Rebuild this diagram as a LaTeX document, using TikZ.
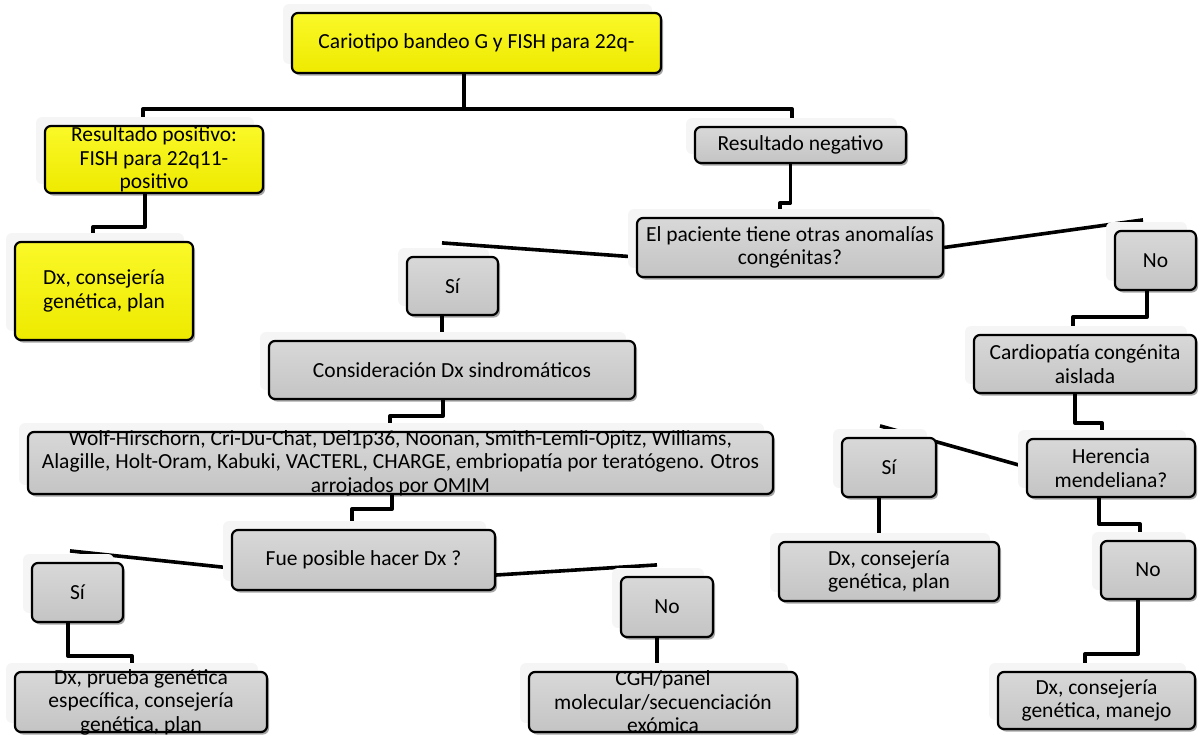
\documentclass[tikz,border=0pt]{standalone}
\usepackage{fontspec}
\setmainfont{Carlito}
\usetikzlibrary{shadows}
\definecolor{boxgrayA}{RGB}{216,216,216}
\definecolor{boxgrayB}{RGB}{196,196,196}
\definecolor{boxyelA}{RGB}{250,248,40}
\definecolor{boxyelB}{RGB}{238,234,0}
\definecolor{glowcol}{RGB}{245,245,245}
\pgfdeclarelayer{links}
\pgfsetlayers{links,main}
\tikzset{
  panel/.style={rectangle, rounded corners=6pt, draw=black, line width=2.2pt,
    inner sep=0pt,
    general shadow={fill=glowcol, draw=none, shadow xshift=-9pt, shadow yshift=9pt},
    general shadow={fill=black, opacity=.35, draw=none, shadow xshift=2pt, shadow yshift=-2.5pt}},
  graybox/.style={panel, top color=boxgrayA, bottom color=boxgrayB},
  yelbox/.style={panel, top color=boxyelA, bottom color=boxyelB},
  txt/.style={align=center, inner sep=0pt, text=black,
    font=\fontsize{21.5pt}{23.5pt}\selectfont},
  link/.style={draw=black, line width=3.6pt, line join=round}
}
\begin{document}
\begin{tikzpicture}[x=1pt, y=-1pt]
\useasboundingbox (0,0) rectangle (1204,736);

% ---- boxes ----
\node[yelbox, minimum width=369, minimum height=60] (top) at (476.5,43) {};
\node[yelbox, minimum width=218, minimum height=67] (pos) at (154,159.5) {};
\node[yelbox, minimum width=178, minimum height=98] (dxy) at (104,291) {};
\node[graybox, minimum width=211, minimum height=36] (neg) at (800.5,145) {};
\node[graybox, minimum width=306, minimum height=59] (pac) at (790,247.5) {};
\node[graybox, minimum width=91, minimum height=58] (si1) at (452.5,286) {};
\node[graybox, minimum width=366, minimum height=58] (cons) at (452,370) {};
\node[graybox, minimum width=745, minimum height=62] (wolf) at (400.5,463) {};
\node[graybox, minimum width=263, minimum height=60] (fue) at (363.5,560) {};
\node[graybox, minimum width=91, minimum height=59] (si2) at (77.5,592.5) {};
\node[graybox, minimum width=252, minimum height=60] (dxp) at (141,702) {};
\node[graybox, minimum width=92, minimum height=60] (no2) at (667,607) {};
\node[graybox, minimum width=268, minimum height=60] (cgh) at (663,702) {};
\node[graybox, minimum width=81, minimum height=59] (no1) at (1155.5,260.5) {};
\node[graybox, minimum width=222, minimum height=58] (card) at (1085,364) {};
\node[graybox, minimum width=168, minimum height=58] (her) at (1111,468) {};
\node[graybox, minimum width=94, minimum height=59] (si3) at (889,467.5) {};
\node[graybox, minimum width=220, minimum height=59] (dxr) at (889,571.5) {};
\node[graybox, minimum width=94, minimum height=58] (no3) at (1148,570) {};
\node[graybox, minimum width=197, minimum height=57] (dxm) at (1096.5,700.5) {};

% ---- texts ----
\node[txt] (top-t) at (top) {Cariotipo bandeo G y FISH para 22q-};
\node[txt] (pos-t) at (pos) {Resultado positivo:\\FISH para 22q11-\\positivo};
\node[txt] (dxy-t) at (dxy) {Dx, consejería\\genética, plan};
\node[txt] (neg-t) at (neg) {Resultado negativo};
\node[txt] (pac-t) at (pac) {El paciente tiene otras anomalías\\congénitas?};
\node[txt] (si1-t) at (si1) {Sí};
\node[txt] (cons-t) at (cons) {Consideración Dx sindromáticos};
\node[txt] (wolf-t) at (wolf) {Wolf-Hirschorn, Cri-Du-Chat, Del1p36, Noonan, Smith-Lemli-Opitz, Williams,\\Alagille, Holt-Oram, Kabuki, VACTERL, CHARGE, embriopatía por teratógeno. Otros\\arrojados por OMIM};
\node[txt] (fue-t) at (fue) {Fue posible hacer Dx ?};
\node[txt] (si2-t) at (si2) {Sí};
\node[txt] (dxp-t) at (dxp) {Dx, prueba genética\\específica, consejería\\genética, plan};
\node[txt] (no2-t) at (no2) {No};
\node[txt] (cgh-t) at (cgh) {CGH/panel\\molecular/secuenciación\\exómica};
\node[txt] (no1-t) at (no1) {No};
\node[txt] (card-t) at (card) {Cardiopatía congénita\\aislada};
\node[txt] (her-t) at (her) {Herencia\\mendeliana?};
\node[txt] (si3-t) at (si3) {Sí};
\node[txt] (dxr-t) at (dxr) {Dx, consejería\\genética, plan};
\node[txt] (no3-t) at (no3) {No};
\node[txt] (dxm-t) at (dxm) {Dx, consejería\\genética, manejo};

% ---- connectors (behind the boxes) ----
\begin{pgfonlayer}{links}
\draw[link] ([xshift=-12.5pt]top.south) -- ++(0,35) -| ([xshift=-11pt]pos.north);
\draw[link] ([xshift=-12.5pt]top.south) -- ++(0,35) -| ([xshift=-8.5pt]neg.north);
\draw[link] ([xshift=-9pt]pos.south) -- ++(0,33) -| ([xshift=-11pt]dxy.north);
\draw[link] ([xshift=-10pt]neg.south) -- ++(0,39) -| ([xshift=-10pt]pac.north);
\draw[link] ([yshift=-9.5pt]pac.west) -- ([xshift=-10.5pt,yshift=13pt]si1.north);
\draw[link] (pac.east) -- ([xshift=-12.5pt,yshift=10pt]no1.north);
\draw[link] ([xshift=-10.5pt]si1.south) -- ([xshift=-10.5pt]si1.south |- cons.north);
\draw[link] ([xshift=-9pt]cons.south) -- ++(0,16) -| ([xshift=-10.5pt]wolf.north);
\draw[link] ([xshift=-8.5pt]wolf.south) -- ++(0,14) -| ([xshift=-11.5pt]fue.north);
\draw[link] ([yshift=-8pt]fue.west) -- ([xshift=-7.5pt,yshift=11pt]si2.north);
\draw[link] ([yshift=-15pt]fue.east) -- ([xshift=-10pt,yshift=11pt]no2.north);
\draw[link] ([xshift=-9.5pt]si2.south) -- ++(0,33) -| ([xshift=-9pt]dxp.north);
\draw[link] ([xshift=-10pt]no2.south) -- ([xshift=-10pt]no2.south |- cgh.north);
\draw[link] ([xshift=-8.5pt]no1.south) -- ++(0,26) -| ([xshift=-12pt]card.north);
\draw[link] ([xshift=-10pt]card.south) -- ++(0,29) -| ([xshift=-9pt]her.north);
\draw[link] ([yshift=1pt]her.west) -- ([xshift=-9pt,yshift=11pt]si3.north);
\draw[link] ([xshift=-10pt]si3.south) -- ([xshift=-10pt]si3.south |- dxr.north);
\draw[link] ([xshift=-12pt]her.south) -- ++(0,26) -| ([xshift=-8pt]no3.north);
\draw[link] ([xshift=-10pt]no3.south) -- ++(0,54) -| ([xshift=-11.5pt]dxm.north);
\end{pgfonlayer}
\end{tikzpicture}
\end{document}
